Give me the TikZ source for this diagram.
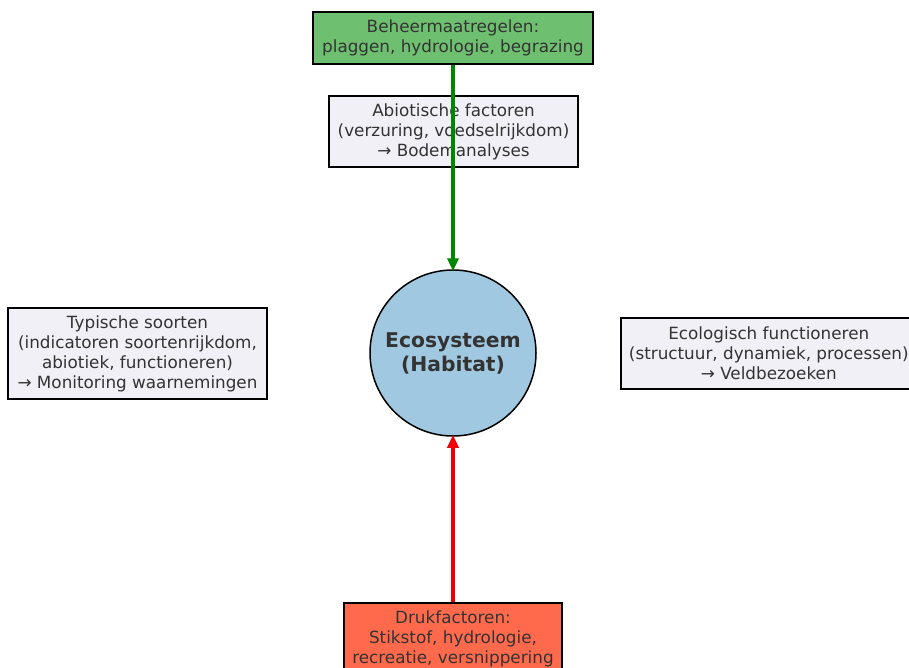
\documentclass[tikz,border=0pt]{standalone}
\usepackage{fontspec}
\setmainfont{DejaVu Sans}
\usetikzlibrary{arrows.meta}
\definecolor{txt}{RGB}{51,51,51}
\definecolor{gfill}{RGB}{110,192,112}
\definecolor{lfill}{RGB}{240,240,246}
\definecolor{cfill}{RGB}{160,200,224}
\definecolor{rfill}{RGB}{255,106,76}
\definecolor{garrow}{RGB}{0,135,0}
\definecolor{rarrow}{RGB}{240,0,0}
\tikzset{
  boxnode/.style={draw=black, line width=1.5pt, align=center, text=txt, inner sep=0pt,
    font=\fontsize{16.8}{20}\selectfont},
  conn/.style={line width=3.2pt, -{Stealth[length=13pt,width=11pt,inset=0pt]}},
}
\begin{document}
\begin{tikzpicture}[x=1pt,y=-1pt]
\useasboundingbox (0,0) rectangle (909,667);
\clip (0,0) rectangle (909,667);
\fill[white] (0,0) rectangle (909,667);
\node[boxnode, fill=gfill, minimum width=280pt, minimum height=52pt] (mgmt) at (453,38)
  {Beheermaatregelen:\\plaggen, hydrologie, begrazing};
\node[boxnode, fill=lfill, minimum width=249pt, minimum height=71pt] (abio) at (453.5,131.5)
  {Abiotische factoren\\(verzuring, voedselrijkdom)\\→ Bodemanalyses};
\node[boxnode, fill=lfill, minimum width=259pt, minimum height=91pt] (typ) at (137.5,353.5)
  {Typische soorten\\(indicatoren soortenrijkdom,\\abiotiek, functioneren)\\→ Monitoring waarnemingen};
\node[boxnode, fill=lfill, minimum width=296pt, minimum height=71pt, anchor=west] (eco) at (620,353.5)
  {Ecologisch functioneren\\(structuur, dynamiek, processen)\\→ Veldbezoeken};
\node[boxnode, fill=rfill, minimum width=218pt, minimum height=72pt, anchor=north] (druk) at (453,602)
  {Drukfactoren:\\Stikstof, hydrologie,\\recreatie, versnippering};
\node[circle, draw=black, line width=1.5pt, fill=cfill, minimum size=166pt, align=center, text=txt,
  font=\fontsize{20.3}{24}\selectfont\bfseries] (hab) at (453,353) {Ecosysteem\\(Habitat)};
\draw[conn, garrow] (mgmt.south) -- ([yshift=-2pt]hab.north);
\draw[conn, rarrow] (druk.north) -- ([yshift=2pt]hab.south);
\end{tikzpicture}
\end{document}
